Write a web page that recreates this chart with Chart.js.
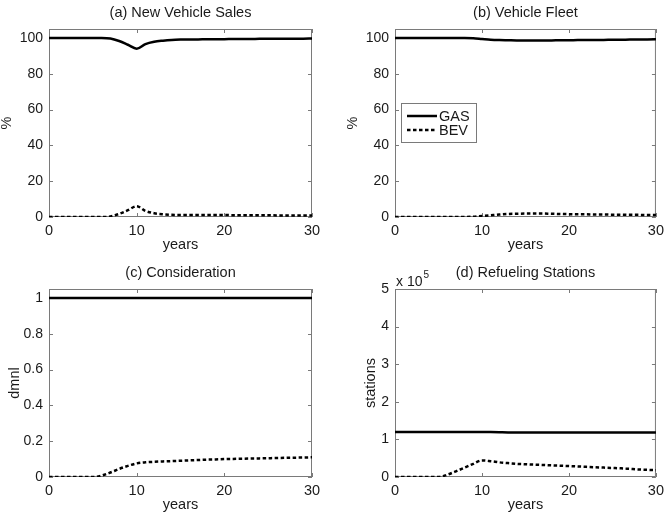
<!DOCTYPE html>
<html>
<head>
<meta charset="utf-8">
<script src="https://cdn.jsdelivr.net/npm/chart.js@4.4.1/dist/chart.umd.min.js"></script>
<style>
    html, body { margin: 0; padding: 0; background: #fff; }
    #wrap { position: relative; width: 669px; height: 518px; }
    canvas { position: absolute; }
</style>
</head>
<body>
<div id="wrap">
    <canvas id="salesChart" width="330" height="258" style="left:0;top:0"></canvas>
    <canvas id="fleetChart" width="339" height="258" style="left:330px;top:0"></canvas>
    <canvas id="considerChart" width="330" height="258" style="left:0;top:260px"></canvas>
    <canvas id="stationChart" width="339" height="258" style="left:330px;top:260px"></canvas>
</div>
<script>
    // valores (anos 0..30)
    const years = [0, 1, 2, 3, 4, 5, 6, 7, 8, 9, 10, 11, 12, 13, 14, 15, 16, 17, 18, 19, 20, 21, 22, 23, 24, 25, 26, 27, 28, 29, 30];

    const salesGas = [100, 100, 100, 100, 100, 100, 100, 99.7, 98.3, 96.2, 94.0, 96.6, 97.9, 98.5, 98.9, 99.1, 99.2, 99.2, 99.3, 99.3, 99.3, 99.4, 99.4, 99.4, 99.5, 99.5, 99.5, 99.6, 99.6, 99.6, 99.7];
    const salesBev = [0, 0, 0, 0, 0, 0, 0, 0.3, 1.7, 3.8, 6.0, 3.4, 2.1, 1.5, 1.2, 1.1, 1.1, 1.1, 1.1, 1.1, 1.1, 1.0, 1.0, 1.0, 1.0, 1.0, 0.9, 0.9, 0.9, 0.9, 0.9];

    const fleetGas = [100, 100, 100, 100, 100, 100, 100, 100, 100, 99.8, 99.4, 99.0, 98.8, 98.7, 98.6, 98.6, 98.6, 98.6, 98.6, 98.7, 98.7, 98.8, 98.8, 98.9, 98.9, 99.0, 99.0, 99.1, 99.1, 99.2, 99.3];
    const fleetBev = [0, 0, 0, 0, 0, 0, 0, 0, 0, 0.2, 0.6, 1.0, 1.4, 1.7, 1.8, 1.9, 1.9, 1.9, 1.8, 1.7, 1.6, 1.5, 1.5, 1.4, 1.4, 1.3, 1.3, 1.2, 1.2, 1.1, 1.1];

    const considerGas = [1, 1, 1, 1, 1, 1, 1, 1, 1, 1, 1, 1, 1, 1, 1, 1, 1, 1, 1, 1, 1, 1, 1, 1, 1, 1, 1, 1, 1, 1, 1];
    const considerBev = [0, 0, 0, 0, 0, 0, 0.008, 0.025, 0.045, 0.062, 0.076, 0.082, 0.085, 0.087, 0.089, 0.091, 0.093, 0.095, 0.097, 0.098, 0.100, 0.101, 0.102, 0.103, 0.104, 0.105, 0.106, 0.107, 0.108, 0.109, 0.110];

    const stationGas = [120000, 120000, 120000, 120000, 120000, 120000, 120000, 120000, 120000, 120000, 120000, 119500, 119000, 118500, 118300, 118200, 118200, 118200, 118200, 118200, 118200, 118200, 118200, 118200, 118200, 118200, 118200, 118300, 118300, 118300, 118300];
    const stationBev = [0, 0, 0, 0, 0, 0, 6000, 15000, 25000, 35000, 44000, 42000, 39000, 37000, 35000, 34000, 33000, 32000, 31000, 30000, 29000, 28000, 27000, 26000, 25000, 24000, 23000, 21500, 20000, 19000, 18000];

    const seriesNames = ['GAS', 'BEV'];
    const xTicks = [0, 10, 20, 30];

    const FONT = "'Liberation Sans', Arial, Helvetica, sans-serif";
    const TEXT = '#1a1a1a';
    const FRAME = '#7a7a7a';

    function pts(values) {
        return years.map((y, i) => ({ x: y, y: values[i] }));
    }

    // caixa e marcas de escala para dentro, estilo MATLAB
    const frameBox = {
        id: 'frameBox',
        beforeDatasetsDraw(chart) {
            const { ctx, chartArea: a, scales } = chart;
            ctx.save();
            ctx.strokeStyle = FRAME;
            ctx.lineWidth = 1;
            ctx.strokeRect(a.left + 0.5, a.top + 0.5, a.right - a.left - 1, a.bottom - a.top - 1);
            ctx.beginPath();
            scales.x.ticks.forEach(t => {
                const px = Math.round(scales.x.getPixelForValue(t.value)) + 0.5;
                ctx.moveTo(px, a.bottom); ctx.lineTo(px, a.bottom - 4);
                ctx.moveTo(px, a.top); ctx.lineTo(px, a.top + 4);
            });
            scales.y.ticks.forEach(t => {
                const py = Math.round(scales.y.getPixelForValue(t.value)) + 0.5;
                ctx.moveTo(a.left, py); ctx.lineTo(a.left + 4, py);
                ctx.moveTo(a.right, py); ctx.lineTo(a.right - 4, py);
            });
            ctx.stroke();
            ctx.restore();
        }
    };

    // legenda dentro do painel (b)
    const innerLegend = {
        id: 'innerLegend',
        afterDatasetsDraw(chart) {
            if (!chart.options.plugins.innerLegend) return;
            const { ctx, chartArea: a } = chart;
            const x0 = a.left + 6, y0 = a.top + 74;
            ctx.save();
            ctx.fillStyle = '#fff';
            ctx.fillRect(x0, y0, 75, 39);
            ctx.strokeStyle = FRAME;
            ctx.lineWidth = 1;
            ctx.strokeRect(x0 + 0.5, y0 + 0.5, 75, 39);
            chart.data.datasets.forEach((ds, i) => {
                const ly = y0 + 13 + i * 14;
                ctx.beginPath();
                ctx.strokeStyle = ds.borderColor;
                ctx.lineWidth = ds.borderWidth;
                ctx.setLineDash(ds.borderDash || []);
                ctx.moveTo(x0 + 6, ly);
                ctx.lineTo(x0 + 36, ly);
                ctx.stroke();
                ctx.setLineDash([]);
                ctx.fillStyle = TEXT;
                ctx.font = '14.5px ' + FONT;
                ctx.textBaseline = 'middle';
                ctx.fillText(ds.label, x0 + 38, ly + 1);
            });
            ctx.restore();
        }
    };

    // "x 10^5" acima do eixo y do painel (d)
    const expLabel = {
        id: 'expLabel',
        afterDraw(chart) {
            if (!chart.options.plugins.expLabel) return;
            const { ctx, chartArea: a } = chart;
            ctx.save();
            ctx.fillStyle = TEXT;
            ctx.textBaseline = 'alphabetic';
            ctx.font = '14px ' + FONT;
            ctx.fillText('x 10', a.left + 1, a.top - 3);
            const w = ctx.measureText('x 10').width;
            ctx.font = '10px ' + FONT;
            ctx.fillText('5', a.left + 2 + w, a.top - 11);
            ctx.restore();
        }
    };

    function makeChart(id, cfg) {
        const ctx = document.getElementById(id).getContext('2d');
        return new Chart(ctx, {
            type: 'line',
            data: {
                datasets: [{
                    label: seriesNames[0],
                    data: pts(cfg.gas),
                    borderColor: '#000',
                    borderWidth: 2.5,
                    pointRadius: 0,
                    cubicInterpolationMode: 'monotone',
                    fill: false
                }, {
                    label: seriesNames[1],
                    data: pts(cfg.bev),
                    borderColor: '#000',
                    borderWidth: 2.5,
                    borderDash: [3.5, 2.5],
                    pointRadius: 0,
                    cubicInterpolationMode: 'monotone',
                    fill: false
                }]
            },
            options: {
                responsive: false,
                animation: false,
                devicePixelRatio: 1,
                layout: { padding: { left: 0, right: cfg.padRight, top: 0, bottom: 0 } },
                plugins: {
                    legend: { display: false },
                    tooltip: { enabled: false },
                    title: {
                        display: true,
                        text: cfg.title,
                        fullSize: false,
                        color: TEXT,
                        font: { family: FONT, size: 14.5, weight: 'normal' },
                        padding: { top: 4.6, bottom: 7 }
                    },
                    innerLegend: cfg.legend || false,
                    expLabel: cfg.exp || false
                },
                scales: {
                    x: {
                        type: 'linear',
                        min: 0,
                        max: 30,
                        afterBuildTicks: s => { s.ticks = xTicks.map(v => ({ value: v })); },
                        afterFit: s => { s.height = 41; },
                        grid: { display: false, drawTicks: false },
                        border: { display: false },
                        ticks: { color: TEXT, padding: 5, font: { family: FONT, size: 14.5 }, maxRotation: 0 },
                        title: { display: true, text: 'years', color: TEXT, font: { family: FONT, size: 14.5 }, padding: { top: 0, bottom: 4 } }
                    },
                    y: {
                        min: 0,
                        max: cfg.yMax,
                        afterFit: s => { s.width = cfg.yWidth; },
                        grid: { display: false, drawTicks: false },
                        border: { display: false },
                        ticks: {
                            stepSize: cfg.yStep,
                            includeBounds: false,
                            color: TEXT,
                            padding: 6,
                            font: { family: FONT, size: 14 },
                            callback: cfg.yFormat
                        },
                        title: { display: true, text: cfg.yTitle, color: TEXT, font: { family: FONT, size: 14.5 }, padding: { top: cfg.yTitlePad, bottom: 0 } }
                    }
                }
            },
            plugins: [frameBox, innerLegend, expLabel]
        });
    }

    const pct = v => String(v);

    makeChart('salesChart', {
        title: '(a) New Vehicle Sales', gas: salesGas, bev: salesBev,
        yMax: 105, yStep: 20, yFormat: pct, yTitle: '%', yTitlePad: -2, yWidth: 49, padRight: 18
    });
    makeChart('fleetChart', {
        title: '(b) Vehicle Fleet', gas: fleetGas, bev: fleetBev,
        yMax: 105, yStep: 20, yFormat: pct, yTitle: '%', yTitlePad: 14.3, yWidth: 65, padRight: 11,
        legend: true
    });
    makeChart('considerChart', {
        title: '(c) Consideration', gas: considerGas, bev: considerBev,
        yMax: 1.05, yStep: 0.2, yFormat: v => String(+v.toFixed(1)), yTitle: 'dmnl', yTitlePad: 6.3, yWidth: 49, padRight: 18
    });
    makeChart('stationChart', {
        title: '(d) Refueling Stations', gas: stationGas, bev: stationBev,
        yMax: 500000, yStep: 100000, yFormat: v => String(Math.round(v / 100000)), yTitle: 'stations', yTitlePad: 32.6, yWidth: 65, padRight: 11,
        exp: true
    });
</script>
</body>
</html>
